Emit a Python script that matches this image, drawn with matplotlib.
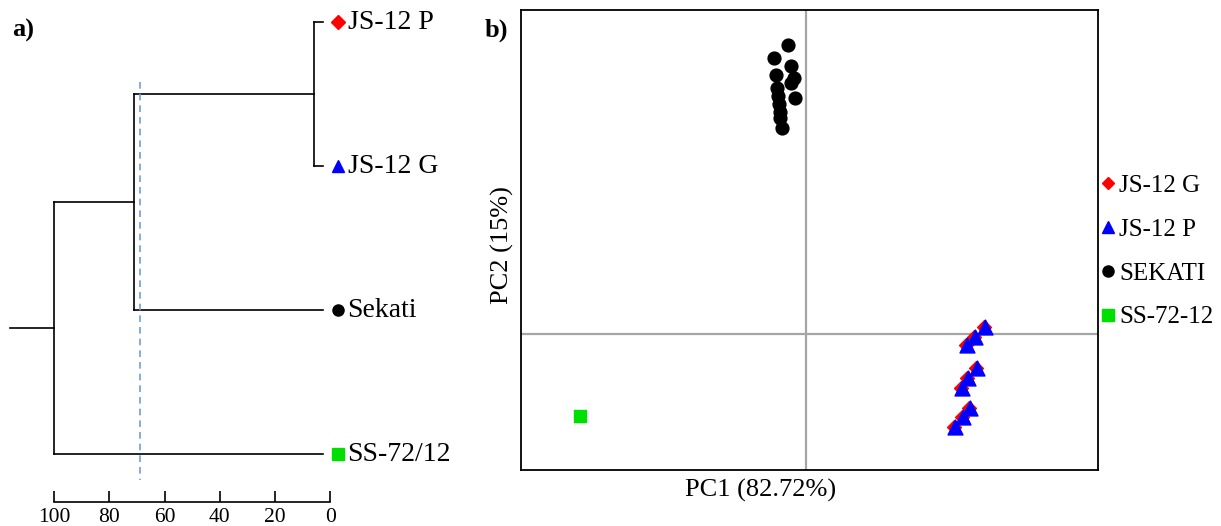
import matplotlib
matplotlib.use("Agg")
import matplotlib.pyplot as plt
from matplotlib.lines import Line2D

# dendrogram (a)
leaf_names = ["JS-12 P", "JS-12 G", "Sekati", "SS-72/12"]
join_p_g = 6        # JS-12 P + JS-12 G
join_sekati = 71    # (P,G) + Sekati
join_root = 100     # all + SS-72/12
cut_line = 69
scale_ticks = [100, 80, 60, 40, 20, 0]

# PCA (b)
sekati_pc1 = [-0.18, -0.32, -0.15, -0.12, -0.30, -0.15, -0.29, -0.11, -0.28, -0.27, -0.26, -0.26, -0.24]
sekati_pc2 = [2.89, 2.76, 2.68, 2.56, 2.59, 2.51, 2.46, 2.36, 2.38, 2.30, 2.22, 2.16, 2.06]
jsp_pc1 = [1.79, 1.69, 1.61, 1.71, 1.62, 1.56, 1.64, 1.57, 1.49]
jsp_pc2 = [0.07, -0.03, -0.11, -0.34, -0.44, -0.54, -0.74, -0.83, -0.93]
jsg_pc1 = [1.775, 1.675, 1.595, 1.695, 1.605, 1.545, 1.625, 1.555, 1.475]
jsg_pc2 = [0.075, -0.025, -0.105, -0.335, -0.435, -0.535, -0.735, -0.825, -0.925]
ss_pc1 = [-2.26]
ss_pc2 = [-0.82]

plt.rcParams["font.family"] = ["Liberation Serif", "DejaVu Serif"]

W, H = 1221, 526
fig = plt.figure(figsize=(W / 100, H / 100), dpi=100)

# ---- panel a ----
axd = fig.add_axes([0, 0, 480 / W, 1])
axd.set_xlim(119.6, -54.3)
axd.set_ylim(3.5, -0.153)
axd.axis("off")

leaf_y = [0, 1, 2, 3]
leaf_end = 2.5
lw = 1.2
k = "black"
# JS-12 P / JS-12 G
y_pg = (leaf_y[0] + leaf_y[1]) / 2
axd.plot([leaf_end, join_p_g], [leaf_y[0]] * 2, color=k, lw=lw)
axd.plot([leaf_end, join_p_g], [leaf_y[1]] * 2, color=k, lw=lw)
axd.plot([join_p_g, join_p_g], [leaf_y[0], leaf_y[1]], color=k, lw=lw)
# + Sekati
y_s = (y_pg + leaf_y[2]) / 2
axd.plot([join_p_g, join_sekati], [y_pg] * 2, color=k, lw=lw)
axd.plot([leaf_end, join_sekati], [leaf_y[2]] * 2, color=k, lw=lw)
axd.plot([join_sekati, join_sekati], [y_pg, leaf_y[2]], color=k, lw=lw)
# + SS-72/12
y_r = (y_s + leaf_y[3]) / 2
axd.plot([join_sekati, join_root], [y_s] * 2, color=k, lw=lw)
axd.plot([leaf_end, join_root], [leaf_y[3]] * 2, color=k, lw=lw)
axd.plot([join_root, join_root], [y_s, leaf_y[3]], color=k, lw=lw)
axd.plot([join_root, 116], [y_r] * 2, color=k, lw=lw)

axd.plot([cut_line, cut_line], [0.417, 3.18], color="#6f9fd8", lw=1.2, ls=(0, (4, 3)))

leaf_style = [("D", "red", 7), ("^", "blue", 8), ("o", "black", 8), ("s", "#00e000", 8)]
for name, y, (m, c, ms) in zip(leaf_names, leaf_y, leaf_style):
    axd.plot([-2.9], [y], marker=m, color=c, ms=ms, ls="none")
    axd.text(-6.3, y, name, fontsize=20, va="center", ha="left")

axd.text(12 / 480, 1 - 30 / H, "a)", transform=axd.transAxes, fontsize=19,
         fontweight="bold", va="center", ha="left")

axs = fig.add_axes([0, (H - 502) / H, 480 / W, 0.02])
axs.set_xlim(119.6, -54.3)
axs.set_ylim(0, 1)
for s in ["top", "left", "right"]:
    axs.spines[s].set_visible(False)
axs.spines["bottom"].set_bounds(0, 100)
axs.spines["bottom"].set_linewidth(1.2)
axs.set_yticks([])
axs.set_xticks(scale_ticks)
axs.set_xticklabels([str(t) for t in scale_ticks])
axs.tick_params(axis="x", direction="in", length=8, width=1.2, labelsize=15.5, pad=4)
axs.patch.set_visible(False)

# ---- panel b ----
axp = fig.add_axes([521 / W, (H - 470) / H, 577 / W, 460 / H])
axp.set_xlim(-2.85, 2.92)
axp.set_ylim(-1.36, 3.24)
axp.set_xticks([])
axp.set_yticks([])
for s in axp.spines.values():
    s.set_linewidth(1.3)
axp.axvline(0, color="#a6a6a6", lw=1.6, zorder=1)
axp.axhline(0, color="#a6a6a6", lw=1.6, zorder=1)

axp.scatter(sekati_pc1, sekati_pc2, marker="o", color="black", s=85, zorder=3)
axp.scatter(jsg_pc1, jsg_pc2, marker="D", color="red", s=50, zorder=3)
axp.scatter(jsp_pc1, jsp_pc2, marker="^", color="blue", s=115, zorder=4)
axp.scatter(ss_pc1, ss_pc2, marker="s", color="#00e000", s=80, zorder=3)

axp.set_xlabel("PC1 (82.72%)", fontsize=19)
axp.xaxis.set_label_coords(0.416, -0.02)
axp.set_ylabel("PC2 (15%)", fontsize=19)
axp.yaxis.set_label_coords(-0.012, 0.49)

fig.text(485 / W, 1 - 30 / H, "b)", fontsize=19, fontweight="bold", va="center", ha="left")

handles = [
    Line2D([], [], marker="D", color="red", ls="none", ms=6),
    Line2D([], [], marker="^", color="blue", ls="none", ms=8),
    Line2D([], [], marker="o", color="black", ls="none", ms=8),
    Line2D([], [], marker="s", color="#00e000", ls="none", ms=8),
]
axp.legend(handles, ["JS-12 G", "JS-12 P", "SEKATI", "SS-72-12"], loc="center left",
           bbox_to_anchor=(1.0, 0.475), frameon=False, fontsize=18, handlelength=0.6,
           handletextpad=0.15, labelspacing=0.85, borderaxespad=0.0, borderpad=0.1)

fig.savefig("out.png", dpi=100)
